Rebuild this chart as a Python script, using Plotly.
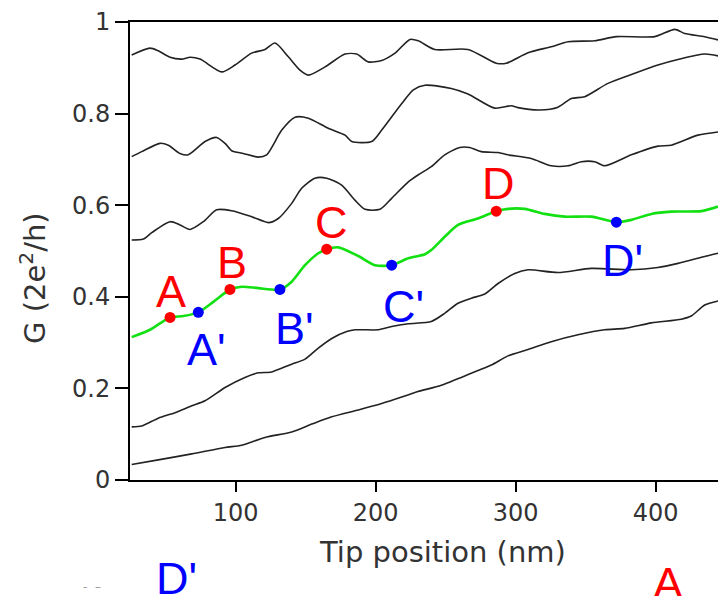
import plotly.graph_objects as go

# Conductance G (2e^2/h) versus tip position (nm), six traces from bottom to top
x1 = [25.7, 44.7, 68.6, 92.4, 104.3, 120.9, 140.0, 154.3, 168.6, 187.6, 204.3, 218.6, 230.2,
      246.9, 268.3, 282.6, 294.5, 308.8, 325.4, 344.5, 363.6, 377.9, 396.9, 418.3, 425.4, 435.0, 444.5]
g1 = [0.034, 0.044, 0.057, 0.071, 0.076, 0.093, 0.105, 0.122, 0.138, 0.153, 0.167, 0.181, 0.193,
      0.207, 0.233, 0.251, 0.271, 0.285, 0.302, 0.317, 0.328, 0.331, 0.343, 0.351, 0.358, 0.382, 0.391]

x2 = [25.7, 32.9, 44.7, 56.6, 68.6, 78.1, 92.4, 106.6, 116.1, 125.7, 140.0, 149.5, 159.0, 168.6,
      179.3, 185.2, 201.9, 211.4, 223.3, 239.7, 249.3, 258.8, 268.3, 277.9, 287.4, 299.3, 308.8,
      330.2, 354.0, 382.6, 401.6, 415.9, 435.0, 444.5]
g2 = [0.116, 0.118, 0.135, 0.147, 0.162, 0.173, 0.202, 0.224, 0.234, 0.236, 0.253, 0.264, 0.288, 0.309,
      0.324, 0.328, 0.328, 0.335, 0.341, 0.346, 0.364, 0.386, 0.397, 0.406, 0.429, 0.451, 0.459,
      0.453, 0.462, 0.459, 0.464, 0.473, 0.488, 0.495]

x3 = [25.7, 38.8, 53.1, 62.6, 73.3, 84.0, 95.9, 104.3, 116.1, 131.6, 140.0, 149.5, 159.0, 165.0,
      173.3, 187.6, 199.5, 211.4, 223.3, 235.2, 239.7, 249.3, 258.8, 273.1, 286.1, 294.5, 306.4,
      320.7, 335.0, 354.0, 371.9, 382.6, 396.9, 411.1, 432.6, 444.5]
g3 = [0.312, 0.328, 0.355, 0.358, 0.366, 0.389, 0.416, 0.422, 0.419, 0.416, 0.433, 0.469, 0.495, 0.504,
      0.508, 0.489, 0.469, 0.469, 0.484, 0.493, 0.502, 0.531, 0.557, 0.571, 0.587, 0.592, 0.592,
      0.581, 0.575, 0.575, 0.563, 0.568, 0.581, 0.586, 0.587, 0.597]

x4 = [25.7, 34.0, 40.0, 53.1, 60.2, 67.4, 76.9, 86.4, 97.1, 111.4, 123.3, 130.4, 140.0, 147.1,
      156.6, 165.0, 175.7, 185.2, 192.4, 203.1, 211.4, 223.3, 230.2, 239.7, 249.3, 260.0, 267.1,
      275.4, 287.4, 294.5, 311.1, 325.4, 337.4, 346.9, 356.4, 363.6, 382.6, 401.6, 411.1, 430.2, 444.5]
g4 = [0.524, 0.526, 0.540, 0.564, 0.557, 0.547, 0.564, 0.590, 0.588, 0.575, 0.562, 0.571, 0.604, 0.637,
      0.659, 0.659, 0.644, 0.611, 0.591, 0.591, 0.615, 0.651, 0.666, 0.684, 0.710, 0.726, 0.726,
      0.717, 0.715, 0.710, 0.702, 0.686, 0.686, 0.695, 0.695, 0.686, 0.710, 0.729, 0.731, 0.753, 0.760]

x5 = [25.7, 32.9, 45.9, 51.9, 60.2, 66.1, 78.1, 86.4, 92.4, 97.1, 105.4, 116.1, 122.1, 132.9,
      142.4, 151.9, 166.1, 178.1, 182.9, 197.1, 204.3, 218.6, 226.9, 235.2, 254.0, 265.9, 285.0,
      296.9, 301.6, 317.1, 330.2, 339.7, 349.3, 365.9, 385.0, 401.6, 415.9, 435.0, 444.5]
g5 = [0.706, 0.717, 0.735, 0.731, 0.713, 0.710, 0.739, 0.748, 0.735, 0.719, 0.713, 0.705, 0.710, 0.764,
      0.792, 0.790, 0.768, 0.753, 0.739, 0.739, 0.764, 0.822, 0.852, 0.862, 0.855, 0.843, 0.812,
      0.817, 0.813, 0.808, 0.814, 0.833, 0.837, 0.866, 0.888, 0.906, 0.918, 0.930, 0.926]

x6 = [25.7, 38.8, 44.7, 53.1, 61.4, 67.4, 74.5, 90.0, 99.5, 111.4, 120.9, 128.1, 137.6, 145.9,
      151.9, 163.8, 178.1, 186.4, 194.7, 204.3, 213.8, 224.5, 230.4, 242.1, 265.9, 286.1, 293.3,
      308.8, 325.4, 337.4, 356.4, 371.9, 399.3, 413.6, 420.7, 435.0, 444.5]
g6 = [0.928, 0.943, 0.937, 0.923, 0.919, 0.923, 0.919, 0.891, 0.906, 0.932, 0.940, 0.954, 0.924, 0.895,
      0.884, 0.902, 0.930, 0.930, 0.913, 0.916, 0.932, 0.962, 0.959, 0.940, 0.940, 0.910, 0.910,
      0.933, 0.946, 0.957, 0.959, 0.968, 0.968, 0.984, 0.975, 0.968, 0.961]

# Marked maxima (red) and minima (blue) on the highlighted trace
pt_x = [53.1, 73.3, 95.9, 131.6, 165.0, 211.4, 286.1, 371.9]
pt_g = [0.355, 0.366, 0.416, 0.416, 0.504, 0.469, 0.587, 0.563]
pt_label = ["A", "A'", "B", "B'", "C", "C'", "D", "D'"]
pt_kind = ["max", "min", "max", "min", "max", "min", "max", "min"]
# label offsets from each dot, in pixels
lab_dx = [1, 8, 2, 15, 5, 12, 2, 6]
lab_dy = [26, -37, 27, -39, 27, -41, 28, -38]

y_ticks = [0, 0.2, 0.4, 0.6, 0.8, 1]
y_ticktext = ["0", "0.2", "0.4", "0.6", "0.8", "1"]
x_ticks = [100, 200, 300, 400]

RED = "#ff0000"
BLUE = "#0000ff"
GREEN = "#12e012"
INK = "#222222"
LABEL_FONT = "Liberation Sans, Arial, sans-serif"
AXIS_FONT = "DejaVu Sans, sans-serif"

fig = go.Figure()
for xs, gs in [(x1, g1), (x2, g2), (x4, g4), (x5, g5), (x6, g6)]:
    fig.add_trace(go.Scatter(x=xs, y=gs, mode="lines",
                             line=dict(color=INK, width=1.6, shape="spline", smoothing=0.7),
                             hoverinfo="skip"))
fig.add_trace(go.Scatter(x=x3, y=g3, mode="lines",
                         line=dict(color=GREEN, width=2.6, shape="spline", smoothing=0.7),
                         hoverinfo="skip"))
fig.add_trace(go.Scatter(
    x=pt_x, y=pt_g, mode="markers",
    marker=dict(size=11, color=[RED if k == "max" else BLUE for k in pt_kind], line=dict(width=0)),
    hoverinfo="skip"))

annotations = []
for px_, pg, lab, kind, dx, dy in zip(pt_x, pt_g, pt_label, pt_kind, lab_dx, lab_dy):
    annotations.append(dict(
        x=px_, y=pg, xref="x", yref="y", text=lab, showarrow=False,
        xshift=dx, yshift=dy, xanchor="center", yanchor="middle",
        font=dict(family=LABEL_FONT, size=45, color=RED if kind == "max" else BLUE)))

# Plot-area geometry in pixels, used to place the text outside the axes
PLOT_L, PLOT_W, PLOT_B, PLOT_H = 130, 588, 480, 458


def paper_x(px_):
    return (px_ - PLOT_L) / PLOT_W


def paper_y(py_):
    return (PLOT_B - py_) / PLOT_H


outside_text = [
    # text, centre x, centre y, size, colour, family, angle
    ("G (2e<sup>2</sup>/h)", 33, 278, 29, "#333333", AXIS_FONT, -90),
    ("Tip position (nm)", 442, 552, 29, "#333333", AXIS_FONT, 0),
    ("D'", 176, 578, 45, BLUE, LABEL_FONT, 0),
    ("A", 668, 583, 45, RED, LABEL_FONT, 0),
    ("-  \u2013", 92, 587, 12, "#9a9a9a", AXIS_FONT, 0),
]
for txt, cx, cy, size, col, fam, ang in outside_text:
    annotations.append(dict(
        x=paper_x(cx), y=paper_y(cy), xref="paper", yref="paper",
        xanchor="center", yanchor="middle", textangle=ang,
        text=txt, showarrow=False,
        font=dict(family=fam, size=size, color=col)))

fig.update_layout(
    width=718, height=596,
    margin=dict(l=PLOT_L, r=0, t=22, b=116),
    paper_bgcolor="white", plot_bgcolor="white",
    showlegend=False,
    annotations=annotations,
    xaxis=dict(range=[24.5, 444.5], showgrid=False, zeroline=False,
               showline=True, linecolor="black", linewidth=2, mirror=True,
               ticks="outside", ticklen=10, tickwidth=2, tickcolor="black",
               tickvals=x_ticks,
               tickfont=dict(family=AXIS_FONT, size=24, color="#333333")),
    yaxis=dict(range=[0, 1], showgrid=False, zeroline=False,
               showline=True, linecolor="black", linewidth=2,
               ticks="outside", ticklen=13, tickwidth=2, tickcolor="black",
               tickvals=y_ticks, ticktext=y_ticktext,
               tickfont=dict(family=AXIS_FONT, size=24, color="#333333")),
)

fig.write_html("out.html")
